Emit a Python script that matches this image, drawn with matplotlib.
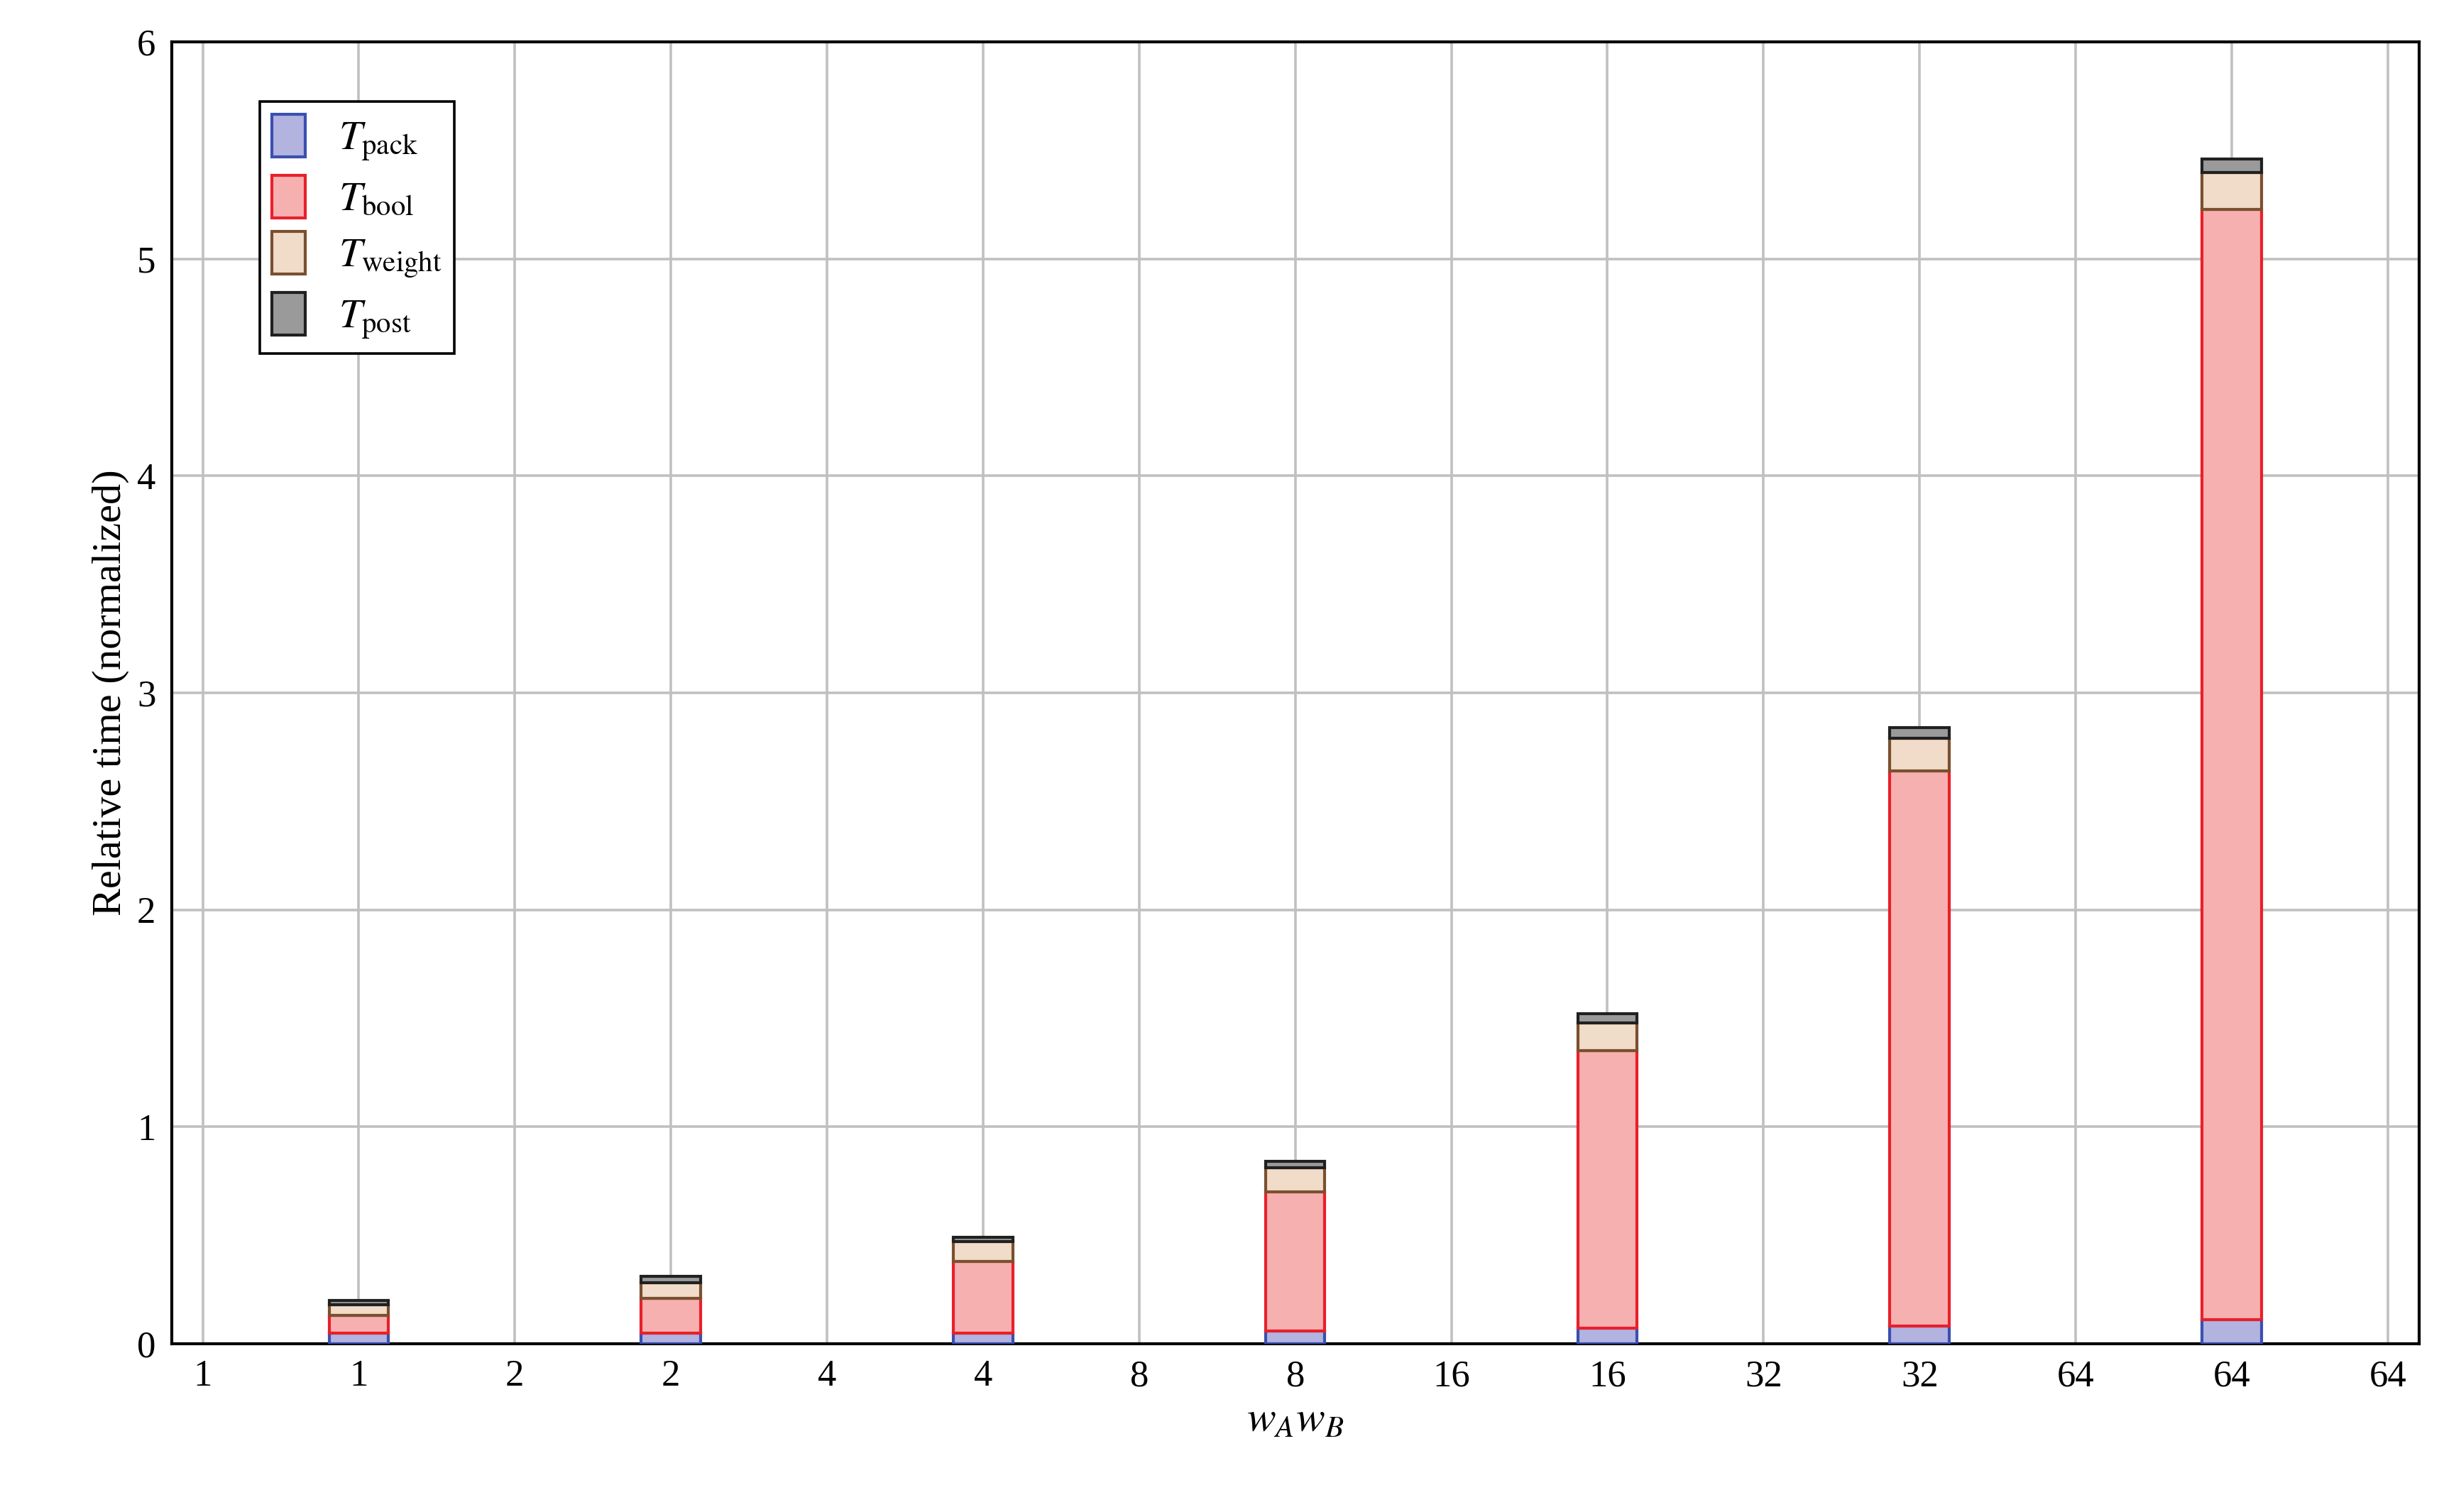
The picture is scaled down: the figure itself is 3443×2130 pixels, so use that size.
import matplotlib
matplotlib.use("Agg")
import matplotlib.pyplot as plt
import numpy as np

tick_labels = ["1","1","2","2","4","4","8","8","16","16","32","32","64","64","64"]
bar_pos = [1, 3, 5, 7, 9, 11, 13]
t_pack = [0.05, 0.05, 0.05, 0.06, 0.07, 0.08, 0.11]
t_bool = [0.08, 0.16, 0.33, 0.64, 1.28, 2.56, 5.12]
t_weight = [0.05, 0.07, 0.09, 0.11, 0.13, 0.15, 0.17]
t_post = [0.02, 0.03, 0.02, 0.03, 0.04, 0.05, 0.06]

plt.rcParams['font.family'] = ['Liberation Serif', 'DejaVu Serif']
plt.rcParams['mathtext.fontset'] = 'stix'

fig = plt.figure(figsize=(17.215, 10.65), dpi=200)
ax = fig.add_axes([110/1568, 1-862/970, (1552-110)/1568, (862-27)/970])

series = [
    (t_pack, '#b3b3e0', '#3a4fb0', r'$T_{\mathrm{pack}}$'),
    (t_bool, '#f7b0b0', '#e8202a', r'$T_{\mathrm{bool}}$'),
    (t_weight, '#f0dcc8', '#7a5030', r'$T_{\mathrm{weight}}$'),
    (t_post, '#9a9a9a', '#202020', r'$T_{\mathrm{post}}$'),
]
bottom = np.zeros(len(bar_pos))
for vals, fc, ec, lab in series:
    ax.bar(bar_pos, vals, width=0.38, bottom=bottom, color=fc, edgecolor=ec,
           linewidth=1.5, label=lab, zorder=3)
    bottom += np.array(vals)

ax.set_xlim(-0.2, 14.2)
ax.set_ylim(0, 6)
ax.set_xticks(range(len(tick_labels)))
ax.set_xticklabels(tick_labels)
ax.set_yticks(range(7))
ax.grid(True, color='#c0c0c0', linewidth=1.3, zorder=0)
ax.tick_params(labelsize=19, length=0, pad=8)
for s in ax.spines.values():
    s.set_linewidth(1.5)
ax.set_xlabel(r'$w_A w_B$', fontsize=22)
ax.set_ylabel('Relative time (normalized)', fontsize=21)
leg = ax.legend(loc='upper left', bbox_to_anchor=(0.03, 0.97), fontsize=21,
                fancybox=False, edgecolor='black', framealpha=1,
                handlelength=0.8, handleheight=1.2, borderpad=0.3, labelspacing=0.3)
leg.get_frame().set_linewidth(1.3)
fig.savefig('out.png', dpi=200)
